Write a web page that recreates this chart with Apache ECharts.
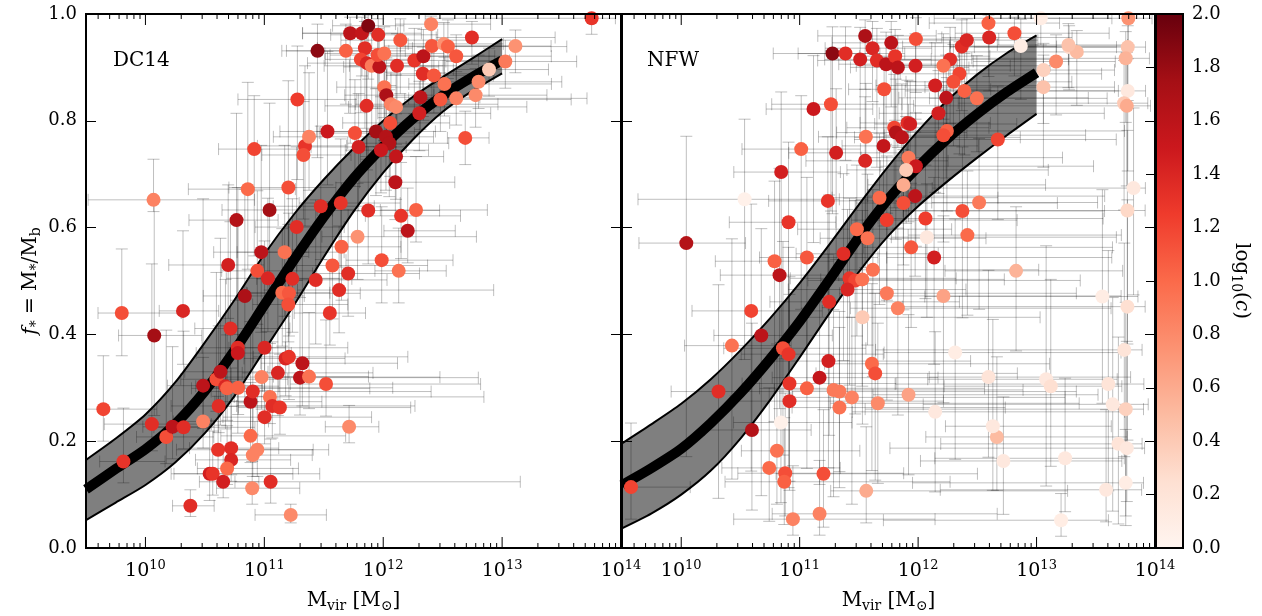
<!DOCTYPE html>
<html>
<head>
<meta charset="utf-8">
<script src="https://cdn.jsdelivr.net/npm/echarts@6/dist/echarts.min.js"></script>
<style>
  html, body { margin: 0; padding: 0; background: #fff; }
  #chart { width: 1262px; height: 616px; }
</style>
</head>
<body>
<div id="chart"></div>
<script>
// ---- model curves: f* vs log10(Mvir) (median and 1-sigma band) ----
const curveMass = [9.5, 9.75, 10.0, 10.25, 10.5, 10.75, 11.0, 11.25, 11.5, 11.75, 12.0, 12.25, 12.5, 12.75, 13.0];
const dc14Median = [0.110, 0.148, 0.185, 0.232, 0.294, 0.370, 0.455, 0.540, 0.620, 0.692, 0.752, 0.804, 0.847, 0.882, 0.913];
const dc14Upper  = [0.165, 0.205, 0.250, 0.310, 0.385, 0.465, 0.550, 0.625, 0.690, 0.748, 0.800, 0.845, 0.882, 0.917, 0.953];
const dc14Lower  = [0.052, 0.085, 0.118, 0.160, 0.215, 0.285, 0.370, 0.455, 0.545, 0.630, 0.703, 0.765, 0.817, 0.856, 0.889];
const nfwMedian  = [0.118, 0.150, 0.186, 0.234, 0.290, 0.354, 0.424, 0.502, 0.582, 0.654, 0.714, 0.767, 0.813, 0.854, 0.890];
const nfwUpper   = [0.196, 0.232, 0.270, 0.316, 0.370, 0.430, 0.496, 0.568, 0.643, 0.715, 0.781, 0.839, 0.887, 0.927, 0.960];
const nfwLower   = [0.037, 0.065, 0.100, 0.145, 0.205, 0.277, 0.357, 0.439, 0.517, 0.585, 0.640, 0.687, 0.731, 0.773, 0.813];

// ---- DC14 galaxies: log10(Mvir), f*, log10(c), errors [minus, plus] ----
const dc14Mass = [9.646,9.801,9.815,10.068,10.074,10.054,10.175,10.228,10.316,10.321,
10.378,10.485,10.485,10.540,10.566,10.597,10.631,10.616,10.654,10.611,
10.673,10.687,10.696,10.766,10.715,10.721,10.721,10.687,10.777,10.777,
10.780,10.861,10.836,10.884,10.884,10.903,10.915,10.898,10.903,10.941,
10.977,10.974,10.941,11.002,11.002,11.044,11.030,11.047,11.067,11.053,
11.131,11.114,11.171,11.179,11.207,11.202,11.272,11.236,11.151,11.207,
11.202,11.222,11.278,11.320,11.300,11.376,11.342,11.329,11.376,11.432,
11.475,11.519,11.531,11.447,11.686,11.722,11.821,11.874,11.958,11.846,
11.812,11.863,11.903,11.967,11.953,12.009,12.144,12.116,12.262,12.338,
12.403,12.409,12.510,12.544,12.614,12.746,12.333,12.426,12.515,12.802,
12.890,13.027,13.112,13.753,12.009,12.026,12.065,12.108,12.313,12.304,
12.481,12.614,12.777,12.059,11.939,12.023,12.051,11.981,11.793,11.762,
12.108,12.102,12.690,11.643,11.874,12.150,12.276,12.206,11.784,11.649,
11.987,12.130,11.573,11.705,11.629,11.551,11.713,11.860];
const dc14Fstar = [0.260,0.440,0.162,0.652,0.398,0.232,0.208,0.227,0.444,0.226,
0.079,0.304,0.237,0.139,0.139,0.316,0.330,0.266,0.124,0.184,
0.303,0.299,0.530,0.614,0.411,0.187,0.165,0.149,0.375,0.365,
0.300,0.672,0.472,0.274,0.210,0.293,0.747,0.112,0.174,0.184,
0.320,0.554,0.519,0.375,0.245,0.633,0.505,0.283,0.266,0.124,
0.263,0.328,0.554,0.355,0.358,0.675,0.601,0.504,0.478,0.477,
0.456,0.062,0.840,0.346,0.319,0.321,0.753,0.736,0.770,0.502,
0.640,0.307,0.780,0.931,0.931,0.964,0.964,0.978,0.961,0.936,
0.915,0.908,0.903,0.901,0.923,0.926,0.951,0.903,0.913,0.921,
0.981,0.940,0.944,0.939,0.921,0.956,0.888,0.885,0.869,0.873,
0.896,0.911,0.940,0.992,0.863,0.848,0.831,0.826,0.844,0.814,
0.840,0.842,0.848,0.796,0.780,0.770,0.758,0.745,0.751,0.777,
0.733,0.685,0.768,0.646,0.632,0.622,0.633,0.594,0.583,0.564,
0.539,0.519,0.529,0.514,0.483,0.440,0.227,0.828];
const dc14LogC = [1.2,1.15,1.3,0.85,1.75,1.35,1.15,1.6,1.4,1.35,
1.35,1.6,0.85,1.45,1.3,1.15,1.6,1.35,1.45,1.3,
1.4,1.05,1.45,1.65,1.35,1.35,1.4,1.0,1.35,1.5,
1.05,1.0,1.7,1.6,1.0,1.35,1.2,0.8,0.85,0.85,
0.85,1.6,1.15,1.4,1.35,1.75,1.4,0.95,1.35,1.35,
1.3,1.4,0.95,1.4,1.3,1.15,1.35,1.35,1.0,1.1,
1.15,0.8,1.25,1.6,1.6,0.95,1.3,1.15,0.85,1.35,
1.35,1.15,1.5,1.85,1.05,1.6,1.55,1.9,1.35,1.35,
1.2,1.4,0.9,1.6,1.15,0.95,1.1,1.35,1.3,1.6,
0.85,1.1,0.75,1.05,1.1,1.35,1.35,1.1,0.95,0.8,
0.4,0.9,0.75,1.3,0.95,1.7,0.85,0.8,1.6,1.45,
1.1,0.85,0.8,1.15,1.75,1.65,1.65,1.5,1.45,1.15,
1.55,1.6,1.15,1.3,1.35,1.3,1.05,1.6,0.75,1.05,
1.15,0.95,1.1,1.35,1.35,1.3,0.8,1.35];
const dc14MassErr = [[0.15,0.45],[0.2,0.5],[0.2,0.35],[0.55,0.85],[0.3,0.4],[0.4,0.5],[0.25,0.4],[0.25,0.35],[0.2,0.3],[0.25,0.6],
[0.15,0.2],[0.3,0.5],[0.25,0.55],[0.3,0.7],[0.35,0.9],[0.3,0.6],[0.3,0.4],[0.4,0.5],[0.2,0.3],[0.35,0.8],
[0.25,0.45],[0.3,1.2],[0.5,0.3],[0.4,0.35],[0.3,0.5],[0.35,0.4],[0.3,0.5],[0.25,0.6],[0.3,0.4],[0.35,0.45],
[0.3,1.3],[0.5,0.4],[0.35,0.5],[0.3,0.6],[0.25,0.8],[0.35,1.5],[0.3,0.4],[0.3,0.4],[0.2,0.5],[0.3,0.6],
[0.3,1.5],[0.4,0.4],[0.3,0.5],[0.3,0.7],[0.35,0.9],[0.4,0.4],[0.35,0.6],[0.3,1.8],[0.3,1.2],[0.3,2.1],
[0.35,1.1],[0.3,0.8],[0.4,0.5],[0.35,0.5],[0.3,1.0],[0.5,0.4],[0.35,0.4],[0.3,0.5],[0.3,0.4],[0.35,0.6],
[0.3,0.5],[0.3,0.3],[0.5,0.5],[0.35,0.8],[0.3,1.5],[0.3,0.5],[0.4,0.35],[0.35,0.4],[0.3,0.4],[0.3,0.6],
[0.4,0.45],[0.3,1.3],[0.4,0.5],[0.3,0.6],[0.5,0.5],[0.4,0.4],[0.5,0.5],[0.3,0.3],[0.4,0.5],[0.4,0.4],
[0.3,0.5],[0.5,0.4],[0.4,0.6],[0.3,0.5],[0.4,0.4],[0.5,0.5],[0.5,0.6],[0.4,0.5],[0.3,0.8],[0.4,0.6],
[0.3,0.5],[0.4,0.7],[0.3,0.5],[0.4,1.0],[0.3,0.8],[0.3,0.7],[0.3,0.6],[0.4,0.5],[0.3,0.9],[0.4,0.7],
[0.3,0.5],[0.5,0.6],[0.6,0.3],[1.4,0.2],[0.4,0.5],[0.35,0.4],[0.3,0.9],[0.4,1.1],[0.3,0.5],[0.35,0.6],
[0.3,1.1],[0.4,1.1],[0.3,0.6],[0.4,0.5],[0.5,0.5],[0.3,0.4],[0.35,0.5],[0.3,0.4],[0.4,0.4],[0.3,0.5],
[0.3,0.4],[0.3,0.5],[0.15,0.2],[0.35,0.5],[0.3,0.6],[0.3,0.5],[0.3,0.6],[0.2,0.4],[0.3,1.0],[0.3,0.5],
[0.3,0.6],[0.2,0.4],[0.3,0.8],[0.3,0.6],[0.35,1.3],[0.3,0.3],[0.2,0.25],[0.35,0.5]];
const dc14FstarErr = [[0.06,0.10],[0.08,0.12],[0.04,0.10],[0.022,0.076],[0.15,0.25],[0.05,0.3],[0.05,0.2],[0.06,0.15],[0.1,0.15],[0.04,0.18],
[0.02,0.03],[0.08,0.35],[0.05,0.12],[0.05,0.1],[0.04,0.08],[0.06,0.2],[0.1,0.25],[0.05,0.15],[0.03,0.06],[0.05,0.1],
[0.08,0.2],[0.06,0.1],[0.1,0.15],[0.15,0.2],[0.1,0.2],[0.05,0.15],[0.04,0.1],[0.03,0.08],[0.1,0.3],[0.15,0.25],
[0.05,0.1],[0.15,0.2],[0.2,0.2],[0.06,0.15],[0.05,0.1],[0.08,0.12],[0.2,0.1],[0.03,0.05],[0.04,0.1],[0.05,0.1],
[0.06,0.12],[0.15,0.2],[0.1,0.15],[0.08,0.2],[0.05,0.12],[0.15,0.2],[0.1,0.15],[0.05,0.1],[0.06,0.12],[0.04,0.08],
[0.05,0.1],[0.08,0.15],[0.12,0.2],[0.07,0.15],[0.08,0.2],[0.15,0.2],[0.1,0.15],[0.1,0.15],[0.1,0.12],[0.08,0.15],
[0.07,0.15],[0.015,0.02],[0.15,0.1],[0.08,0.2],[0.07,0.15],[0.06,0.12],[0.15,0.15],[0.12,0.1],[0.1,0.12],[0.12,0.15],
[0.1,0.15],[0.06,0.12],[0.1,0.15],[0.2,0.05],[0.1,0.05],[0.15,0.03],[0.08,0.03],[0.1,0.02],[0.1,0.03],[0.15,0.05],
[0.1,0.05],[0.2,0.06],[0.12,0.07],[0.15,0.06],[0.1,0.05],[0.12,0.05],[0.1,0.04],[0.12,0.06],[0.1,0.06],[0.12,0.05],
[0.05,0.015],[0.1,0.04],[0.08,0.04],[0.06,0.05],[0.06,0.04],[0.05,0.03],[0.08,0.05],[0.07,0.05],[0.06,0.05],[0.05,0.05],
[0.05,0.04],[0.05,0.04],[0.05,0.03],[0.03,0.005],[0.1,0.06],[0.1,0.07],[0.08,0.06],[0.07,0.06],[0.06,0.05],[0.07,0.06],
[0.06,0.05],[0.05,0.05],[0.06,0.05],[0.1,0.07],[0.12,0.08],[0.1,0.08],[0.1,0.1],[0.08,0.1],[0.12,0.1],[0.1,0.1],
[0.08,0.08],[0.07,0.1],[0.05,0.05],[0.12,0.12],[0.1,0.12],[0.08,0.1],[0.06,0.1],[0.06,0.08],[0.08,0.1],[0.1,0.12],
[0.08,0.1],[0.06,0.08],[0.1,0.12],[0.08,0.12],[0.08,0.12],[0.06,0.1],[0.03,0.04],[0.1,0.08]];

// ---- NFW galaxies ----
const nfwMass = [11.553,11.773,11.981,11.277,11.387,11.511,11.615,11.652,11.730,11.806,
11.829,11.978,11.713,11.117,11.264,11.910,11.933,11.798,11.812,11.863,
11.559,11.708,11.013,11.308,11.553,10.844,11.919,11.981,11.899,10.535,
11.238,11.674,11.876,11.975,10.906,10.043,11.483,11.573,11.736,12.062,
10.788,11.061,10.830,11.370,11.941,11.618,11.421,11.469,11.528,11.404,
11.736,12.074,11.876,11.249,11.829,11.530,10.591,10.428,10.676,
10.859,10.906,10.315,10.597,10.842,10.808,11.243,11.168,10.914,10.914,
11.061,11.286,11.336,11.441,11.336,11.610,11.638,11.660,11.919,9.576,
10.743,10.878,10.870,10.943,11.168,11.201,11.562,12.594,12.600,12.813,
12.867,13.036,12.369,12.411,12.270,12.214,12.349,12.298,12.144,12.237,
12.391,12.496,12.172,12.243,12.214,12.673,13.058,13.165,13.058,13.275,
13.340,13.269,13.775,13.770,13.753,13.770,13.739,13.762,12.374,12.515,
12.416,12.135,12.827,13.819,13.767,12.214,13.556,13.767,12.313,13.741,
12.144,12.594,12.665,12.631,12.720,13.081,13.120,13.606,13.643,13.753,
13.691,13.762,13.241,13.587,13.753,13.207];
const nfwFstar = [0.959,0.946,0.953,0.926,0.926,0.915,0.936,0.913,0.906,0.921,
0.900,0.903,0.859,0.822,0.831,0.796,0.794,0.787,0.778,0.769,
0.770,0.753,0.747,0.740,0.725,0.704,0.731,0.715,0.708,0.653,
0.650,0.656,0.680,0.659,0.610,0.571,0.597,0.580,0.614,0.617,
0.537,0.544,0.511,0.551,0.563,0.521,0.505,0.501,0.503,0.484,
0.477,0.582,0.646,0.461,0.449,0.432,0.444,0.379,0.398,
0.374,0.363,0.293,0.221,0.235,0.182,0.350,0.319,0.308,0.275,
0.299,0.296,0.293,0.282,0.263,0.345,0.327,0.271,0.287,0.114,
0.150,0.140,0.124,0.054,0.064,0.139,0.107,0.983,0.956,0.964,
0.940,0.992,0.939,0.951,0.915,0.903,0.888,0.873,0.866,0.843,
0.856,0.842,0.814,0.781,0.773,0.765,0.895,0.911,0.863,0.938,
0.929,0.942,0.992,0.938,0.917,0.856,0.833,0.828,0.631,0.647,
0.586,0.544,0.519,0.674,0.632,0.472,0.471,0.452,0.366,0.371,
0.255,0.320,0.208,0.228,0.163,0.316,0.303,0.307,0.269,0.260,
0.195,0.187,0.168,0.109,0.122,0.052];
const nfwLogC = [1.7,1.6,1.15,1.85,1.35,1.45,1.4,1.35,1.6,1.3,
1.6,1.45,1.15,1.5,1.15,1.35,1.45,1.2,1.65,1.6,
0.95,1.55,1.05,1.45,1.4,1.45,0.9,1.5,0.4,0.05,
1.3,1.0,0.6,1.6,1.3,1.65,1.0,0.95,1.25,1.25,
1.05,1.1,1.6,1.35,1.1,0.95,1.3,1.2,0.95,1.4,
0.9,0.15,1.15,1.35,0.85,0.4,1.2,0.95,1.6,
1.15,1.3,1.35,1.65,0.05,0.95,1.45,1.55,1.3,1.35,
1.05,0.9,0.9,0.85,0.95,1.0,1.15,0.8,0.65,1.2,
1.0,1.15,1.05,0.85,0.85,1.15,0.6,1.05,1.4,1.15,
0.1,0.1,1.35,1.4,1.35,0.95,1.2,1.15,1.45,1.6,
1.05,0.95,1.45,1.05,1.15,1.2,0.35,0.8,0.45,0.3,
0.5,0.45,0.75,0.45,0.55,0.15,0.4,0.6,1.15,0.9,
1.0,1.45,0.55,0.15,0.3,0.65,0.1,0.25,0.1,0.2,
0.15,0.2,0.5,0.15,0.15,0.15,0.25,0.2,0.15,0.35,
0.2,0.15,0.15,0.15,0.1,0.1];
const nfwMassErr = [[0.4,0.6],[0.5,0.5],[0.4,0.7],[0.5,0.4],[0.4,0.5],[0.3,0.6],[0.4,0.5],[0.5,0.7],[0.4,0.6],[0.3,0.8],
[0.4,0.6],[0.5,0.8],[0.3,0.9],[0.4,0.5],[0.5,0.6],[0.4,0.7],[0.3,0.9],[0.4,0.8],[0.5,0.6],[0.4,1.0],
[0.4,0.6],[0.35,0.8],[0.5,0.5],[0.4,0.6],[0.5,0.7],[0.4,0.5],[0.4,1.3],[0.3,1.5],[0.5,1.2],[0.9,0.8],
[0.5,0.6],[0.4,1.0],[0.3,1.2],[0.4,1.6],[0.5,0.4],[0.4,0.5],[0.5,0.8],[0.4,1.0],[0.3,1.1],[0.4,1.5],
[0.5,0.5],[0.4,0.6],[0.5,0.5],[0.4,0.8],[0.4,1.7],[0.3,1.4],[0.5,0.9],[0.4,1.9],[0.35,1.2],[0.5,1.0],
[0.4,1.6],[0.3,1.6],[0.4,1.3],[0.5,1.1],[0.4,1.8],[0.5,1.5],[0.5,0.6],[0.4,0.5],[0.4,0.6],
[0.5,0.7],[0.4,0.8],[0.4,0.6],[0.4,0.5],[0.4,0.6],[0.3,0.7],[0.5,1.2],[0.4,1.0],[0.4,0.9],[0.5,1.3],
[0.4,1.5],[0.5,1.6],[0.4,2.0],[0.5,1.8],[0.4,1.4],[0.4,1.5],[0.5,1.2],[0.4,1.7],[0.3,1.6],[0.2,0.5],
[0.4,0.6],[0.4,1.0],[0.5,1.4],[0.5,1.2],[0.4,1.5],[0.4,1.3],[0.3,1.7],[0.5,0.6],[0.4,0.7],[0.5,0.8],
[0.6,0.9],[0.9,0.6],[0.5,0.8],[0.4,0.6],[0.5,1.0],[0.4,0.9],[0.5,1.2],[0.4,1.0],[0.5,0.9],[0.4,1.2],
[0.5,1.3],[0.4,1.1],[0.5,1.4],[0.4,1.5],[0.5,1.2],[0.5,1.0],[0.8,0.6],[0.7,0.5],[1.0,0.6],[0.8,0.4],
[1.0,0.4],[0.6,0.5],[1.2,0.2],[1.5,0.15],[1.3,0.2],[1.6,0.15],[1.4,0.2],[1.8,0.2],[0.5,1.2],[0.4,1.0],
[0.5,1.3],[0.4,1.5],[0.6,0.9],[1.7,0.1],[2.0,0.15],[0.5,1.5],[1.5,0.3],[1.9,0.15],[0.6,1.4],[2.1,0.15],
[0.7,1.6],[0.5,1.2],[0.6,1.1],[0.4,1.0],[0.7,1.0],[1.0,0.6],[0.9,0.6],[1.8,0.3],[1.6,0.3],[2.2,0.15],
[1.5,0.2],[2.0,0.15],[1.1,0.5],[1.4,0.3],[1.8,0.15],[1.5,0.4]];
const nfwFstarErr = [[0.1,0.03],[0.12,0.04],[0.1,0.04],[0.3,0.05],[0.2,0.05],[0.15,0.06],[0.1,0.05],[0.2,0.06],[0.15,0.06],[0.12,0.05],
[0.15,0.06],[0.1,0.06],[0.1,0.06],[0.25,0.1],[0.2,0.1],[0.15,0.08],[0.12,0.08],[0.15,0.1],[0.2,0.1],[0.12,0.1],
[0.2,0.1],[0.15,0.1],[0.3,0.1],[0.2,0.12],[0.2,0.12],[0.35,0.15],[0.12,0.1],[0.15,0.1],[0.1,0.1],[0.3,0.15],
[0.2,0.12],[0.2,0.12],[0.15,0.1],[0.15,0.12],[0.3,0.15],[0.4,0.2],[0.2,0.12],[0.2,0.12],[0.15,0.12],[0.15,0.1],
[0.3,0.15],[0.25,0.15],[0.25,0.2],[0.2,0.15],[0.15,0.12],[0.2,0.15],[0.2,0.15],[0.25,0.15],[0.2,0.15],[0.2,0.15],
[0.2,0.15],[0.15,0.1],[0.2,0.1],[0.25,0.2],[0.2,0.15],[0.2,0.2],[0.3,0.2],[0.25,0.2],[0.3,0.2],
[0.2,0.2],[0.25,0.2],[0.2,0.2],[0.15,0.2],[0.15,0.15],[0.1,0.2],[0.2,0.2],[0.2,0.15],[0.2,0.2],[0.15,0.2],
[0.15,0.15],[0.2,0.15],[0.15,0.15],[0.2,0.15],[0.15,0.15],[0.2,0.15],[0.2,0.15],[0.15,0.15],[0.15,0.15],[0.06,0.12],
[0.1,0.15],[0.08,0.15],[0.08,0.12],[0.03,0.1],[0.04,0.1],[0.1,0.12],[0.06,0.12],[0.1,0.015],[0.1,0.03],[0.08,0.03],
[0.1,0.05],[0.05,0.008],[0.12,0.05],[0.1,0.04],[0.12,0.06],[0.1,0.06],[0.15,0.06],[0.12,0.07],[0.2,0.08],[0.15,0.08],
[0.12,0.07],[0.1,0.08],[0.15,0.08],[0.15,0.1],[0.2,0.1],[0.15,0.1],[0.1,0.05],[0.1,0.05],[0.15,0.06],[0.08,0.04],
[0.1,0.04],[0.08,0.04],[0.05,0.005],[0.1,0.04],[0.12,0.05],[0.15,0.06],[0.2,0.08],[0.15,0.1],[0.2,0.12],[0.2,0.12],
[0.15,0.12],[0.2,0.15],[0.15,0.12],[0.2,0.15],[0.25,0.15],[0.2,0.15],[0.2,0.2],[0.25,0.2],[0.2,0.25],[0.2,0.2],
[0.15,0.15],[0.15,0.2],[0.1,0.15],[0.12,0.2],[0.1,0.12],[0.2,0.25],[0.15,0.2],[0.2,0.25],[0.2,0.2],[0.2,0.2],
[0.15,0.2],[0.1,0.2],[0.1,0.15],[0.06,0.15],[0.08,0.1],[0.03,0.05]];

// ---- axis furniture ----
const massDecades = [10, 11, 12, 13, 14];      // labelled x ticks (10^n)
const minorMultipliers = [2, 3, 4, 5, 6, 7, 8, 9];
const panelNames = ['DC14', 'NFW'];

// Reds colour map, low to high
const REDS = ['#fff5f0', '#fee0d2', '#fcbba1', '#fc9272', '#fb6a4a', '#ef3b2c', '#cb181d', '#a50f15', '#67000d'];
const SERIF = '"DejaVu Serif", "Liberation Serif", serif';

function points(mass, fstar, logc) {
  return mass.map((m, i) => [m, fstar[i], logc[i]]);
}
function errorRows(mass, fstar, mErr, fErr) {
  return mass.map((m, i) => [m, fstar[i], m - mErr[i][0], m + mErr[i][1], fstar[i] - fErr[i][0], fstar[i] + fErr[i][1]]);
}
function curve(med) {
  return curveMass.map((m, i) => [m, med[i]]);
}

// tick positions on the log-mass axis
const tickRows = [];
[9, 10, 11, 12, 13].forEach(n => {
  minorMultipliers.forEach(k => {
    const v = n + Math.log10(k);
    if (v >= 9.5 && v <= 14) tickRows.push([v, 0]);
  });
});
massDecades.forEach(n => tickRows.push([n, 1]));

function renderErrorBar(params, api) {
  const x = api.value(0), y = api.value(1);
  const pL = api.coord([api.value(2), y]);
  const pR = api.coord([api.value(3), y]);
  const pB = api.coord([x, api.value(4)]);
  const pT = api.coord([x, api.value(5)]);
  const cap = 6;
  const style = { stroke: 'rgba(0,0,0,0.25)', lineWidth: 1, fill: null };
  return {
    type: 'group',
    children: [
      { type: 'line', shape: { x1: pL[0], y1: pL[1], x2: pR[0], y2: pR[1] }, style },
      { type: 'line', shape: { x1: pB[0], y1: pB[1], x2: pT[0], y2: pT[1] }, style },
      { type: 'line', shape: { x1: pL[0], y1: pL[1] - cap, x2: pL[0], y2: pL[1] + cap }, style },
      { type: 'line', shape: { x1: pR[0], y1: pR[1] - cap, x2: pR[0], y2: pR[1] + cap }, style },
      { type: 'line', shape: { x1: pB[0] - cap, y1: pB[1], x2: pB[0] + cap, y2: pB[1] }, style },
      { type: 'line', shape: { x1: pT[0] - cap, y1: pT[1], x2: pT[0] + cap, y2: pT[1] }, style }
    ]
  };
}

function bandRenderer(upper, lower) {
  return function (params, api) {
    const top = curveMass.map((m, i) => api.coord([m, upper[i]]));
    const bot = curveMass.map((m, i) => api.coord([m, lower[i]]));
    const poly = top.concat(bot.slice().reverse());
    return {
      type: 'group',
      children: [
        { type: 'polygon', shape: { points: poly }, style: { fill: 'rgba(0,0,0,0.5)', stroke: null } },
        { type: 'polyline', shape: { points: top, smooth: 0.25 }, style: { stroke: '#000', lineWidth: 2, fill: null } },
        { type: 'polyline', shape: { points: bot, smooth: 0.25 }, style: { stroke: '#000', lineWidth: 2, fill: null } }
      ]
    };
  };
}

function renderTick(params, api) {
  const v = api.value(0);
  const major = api.value(1) === 1;
  const len = major ? 11 : 5;
  const pB = api.coord([v, 0]);
  const pT = api.coord([v, 1]);
  const style = { stroke: '#000', lineWidth: 1, fill: null };
  return {
    type: 'group',
    children: [
      { type: 'line', shape: { x1: pB[0], y1: pB[1], x2: pB[0], y2: pB[1] - len }, style },
      { type: 'line', shape: { x1: pT[0], y1: pT[1], x2: pT[0], y2: pT[1] + len }, style }
    ]
  };
}

function renderColorbar(params, api) {
  const p0 = api.coord([0, 0]);
  const p1 = api.coord([1, 2]);
  return {
    type: 'rect',
    shape: { x: p0[0], y: p1[1], width: p1[0] - p0[0], height: p0[1] - p1[1] },
    style: {
      fill: {
        type: 'linear', x: 0, y: 1, x2: 0, y2: 0,
        colorStops: REDS.map((c, i) => ({ offset: i / (REDS.length - 1), color: c }))
      },
      stroke: null
    }
  };
}

const tickLabelRich = {
  b: { fontFamily: SERIF, fontSize: 19, color: '#000' },
  s: { fontFamily: SERIF, fontSize: 13, color: '#000', padding: [0, 0, 12, 0] }
};
const nameRich = {
  sub: { fontFamily: SERIF, fontSize: 14, color: '#000', padding: [10, 0, 0, 0] },
  i: { fontFamily: SERIF, fontSize: 20, color: '#000', fontStyle: 'italic' }
};

function massAxis(gridIndex) {
  return {
    type: 'value', gridIndex, min: 9.5, max: 14, interval: 0.5,
    axisLine: { show: false }, axisTick: { show: false }, splitLine: { show: false },
    axisLabel: {
      formatter: v => (massDecades.includes(v) ? '{b|10}{s|' + v + '}' : ''),
      rich: tickLabelRich, margin: 11, showMinLabel: true, showMaxLabel: true
    },
    name: 'M{sub|vir} [M{sub|⊙}]', nameLocation: 'middle', nameGap: 41,
    nameTextStyle: { fontFamily: SERIF, fontSize: 20, color: '#000', rich: nameRich }
  };
}
function fstarAxis(gridIndex, position, labelled) {
  const ax = {
    type: 'value', gridIndex, position, min: 0, max: 1, interval: 0.2,
    axisLine: { show: false }, splitLine: { show: false },
    axisTick: { inside: true, length: 10, lineStyle: { color: '#000', width: 1 } },
    axisLabel: labelled
      ? { formatter: v => v.toFixed(1), fontFamily: SERIF, fontSize: 18, color: '#000', margin: 9 }
      : { show: false }
  };
  if (labelled) {
    ax.name = '{i|f}{sub|*} = M{sub|*}/M{sub|b}';
    ax.nameLocation = 'middle';
    ax.nameRotate = 90;
    ax.nameGap = 43;
    ax.nameTextStyle = { fontFamily: SERIF, fontSize: 20, color: '#000', rich: nameRich };
  }
  return ax;
}

function panelSeries(xi, yi, mass, fstar, logc, mErr, fErr, upper, lower, median) {
  return [
    {
      type: 'custom', xAxisIndex: xi, yAxisIndex: yi, clip: true, z: 1,
      data: errorRows(mass, fstar, mErr, fErr), encode: { x: 0, y: 1 },
      renderItem: renderErrorBar, silent: true
    },
    {
      type: 'custom', xAxisIndex: xi, yAxisIndex: yi, clip: true, z: 2,
      data: [[curveMass[0], median[0]]], encode: { x: 0, y: 1 },
      renderItem: bandRenderer(upper, lower), silent: true
    },
    {
      type: 'line', xAxisIndex: xi, yAxisIndex: yi, z: 3,
      data: curve(median), symbol: 'none', smooth: 0.25,
      lineStyle: { color: '#000', width: 10 }, silent: true
    },
    {
      type: 'scatter', xAxisIndex: xi, yAxisIndex: yi, z: 4,
      data: points(mass, fstar, logc), symbolSize: 14,
      itemStyle: { opacity: 1, borderWidth: 0 }
    },
    {
      type: 'custom', xAxisIndex: xi, yAxisIndex: yi, clip: false, z: 5,
      data: tickRows, encode: { x: 0, y: 1 }, renderItem: renderTick, silent: true
    }
  ];
}

const chart = echarts.init(document.getElementById('chart'), null, { renderer: 'canvas' });

// fixed plot rectangles: no automatic shrinking for labels
const gridBase = {
  top: 14, height: 534, show: true, borderColor: '#000', borderWidth: 2,
  backgroundColor: 'transparent', z: 10, containLabel: false, outerBoundsMode: 'none'
};

const option = {
  animation: false,
  backgroundColor: '#fff',
  grid: [
    Object.assign({}, gridBase, { left: 86, width: 535 }),
    Object.assign({}, gridBase, { left: 622, width: 533 }),
    Object.assign({}, gridBase, { left: 1156, width: 27 })
  ],
  xAxis: [
    massAxis(0),
    massAxis(1),
    { type: 'value', gridIndex: 2, min: 0, max: 1, show: false }
  ],
  yAxis: [
    fstarAxis(0, 'left', true),
    fstarAxis(0, 'right', false),
    fstarAxis(1, 'left', false),
    fstarAxis(1, 'right', false),
    {
      type: 'value', gridIndex: 2, position: 'right', min: 0, max: 2, interval: 0.2,
      axisLine: { show: false }, splitLine: { show: false },
      axisTick: { inside: true, length: 10, lineStyle: { color: '#000', width: 1 } },
      axisLabel: { formatter: v => v.toFixed(1), fontFamily: SERIF, fontSize: 18, color: '#000', margin: 9 },
      name: 'log{sub|10}({i|c})', nameLocation: 'middle', nameRotate: -90, nameGap: 46,
      nameTextStyle: { fontFamily: SERIF, fontSize: 20, color: '#000', rich: nameRich }
    }
  ],
  visualMap: {
    type: 'continuous', show: false, min: 0, max: 2, dimension: 2,
    seriesIndex: [3, 8], inRange: { color: REDS }
  },
  graphic: [
    { type: 'text', left: 113, top: 51, style: { text: panelNames[0], font: '20px ' + SERIF, fill: '#000' } },
    { type: 'text', left: 647, top: 51, style: { text: panelNames[1], font: '20px ' + SERIF, fill: '#000' } }
  ],
  series: [].concat(
    panelSeries(0, 0, dc14Mass, dc14Fstar, dc14LogC, dc14MassErr, dc14FstarErr, dc14Upper, dc14Lower, dc14Median),
    panelSeries(1, 2, nfwMass, nfwFstar, nfwLogC, nfwMassErr, nfwFstarErr, nfwUpper, nfwLower, nfwMedian),
    [{
      type: 'custom', xAxisIndex: 2, yAxisIndex: 4, clip: false, z: 1,
      data: [[0, 0]], encode: { x: 0, y: 1 }, renderItem: renderColorbar, silent: true
    }]
  )
};

chart.setOption(option);
</script>
</body>
</html>
